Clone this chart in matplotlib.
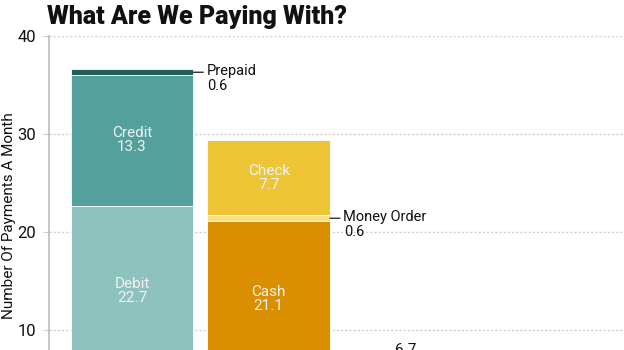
import matplotlib
matplotlib.use("Agg")
import matplotlib.pyplot as plt
from matplotlib import font_manager

# ---- data ----
bars = ["Cards", "Paper", "Electronic"]
card_types = ["Debit", "Credit", "Prepaid"]
card_values = [22.7, 13.3, 0.6]
paper_types = ["Cash", "Money Order", "Check"]
paper_values = [21.1, 0.6, 7.7]
electronic_value = [6.7]
yticks = [10, 20, 30, 40]

card_colors = ["#8dc2be", "#53a09c", "#1f5e59"]
paper_colors = ["#d98f00", "#f7e08c", "#edc537"]

names = [f.name for f in font_manager.fontManager.ttflist]
FONT = "Liberation Sans Narrow" if "Liberation Sans Narrow" in names else "Roboto"
plt.rcParams["font.family"] = [FONT, "DejaVu Sans"]

W, H = 624, 350
fig = plt.figure(figsize=(W / 100, H / 100), dpi=100)
y0_px, y40_px = 428.0, 36.0
ax_left = 49 / W
ax = fig.add_axes([ax_left, 1 - y0_px / H, 1 - ax_left, (y0_px - y40_px) / H])
ax.set_ylim(0, 40)
ax.set_xlim(-0.607, 3.6)

width = 0.897
inside = {"Debit", "Credit", "Cash", "Check"}
LABEL_FLOOR = 5.3


def stack(x, types, values, colors):
    bottom = 0.0
    for t, v, c in zip(types, values, colors):
        ax.bar(x, v, width=width, bottom=bottom, color=c, edgecolor="white",
               linewidth=0.6, zorder=3)
        if t in inside:
            lo = max(bottom, LABEL_FLOOR)
            ax.text(x, (lo + bottom + v) / 2, f"{t}\n{v}", ha="center", va="center",
                    color="#f2f2f2", fontsize=11, linespacing=1.0, zorder=4)
        else:
            yc = bottom + v / 2
            xe = x + width / 2
            ax.annotate("", xy=(xe, yc), xytext=(10, 0), textcoords="offset pixels",
                        xycoords="data",
                        arrowprops=dict(arrowstyle="-", color="#333333", lw=1,
                                        shrinkA=0, shrinkB=0), zorder=5)
            ax.annotate(t, xy=(xe, yc), xytext=(13, 1), textcoords="offset pixels",
                        ha="left", va="center", fontsize=10.5, color="#111111")
            ax.annotate(f"{v}", xy=(xe, yc), xytext=(14, -7), textcoords="offset pixels",
                        ha="left", va="top", fontsize=10.5, color="#111111")
        bottom += v


stack(0, card_types, card_values, card_colors)
stack(1, paper_types, paper_values, paper_colors)
ax.bar(2, electronic_value[0], width=width, color="#7a7a7a", zorder=3)
ax.annotate(f"{electronic_value[0]}", xy=(2, electronic_value[0]), xytext=(0, 5),
            textcoords="offset pixels", ha="center", va="bottom", fontsize=11,
            color="#111111")

ax.set_yticks(yticks)
ax.set_xticks([])
ax.yaxis.grid(True, linestyle=(0, (1.5, 1.5)), color="#cfcfcf", linewidth=1, zorder=0)
ax.set_axisbelow(True)
for s in ["top", "right", "bottom"]:
    ax.spines[s].set_visible(False)
ax.spines["left"].set_color("#bdbdbd")
ax.spines["left"].set_linewidth(1.2)
ax.tick_params(axis="y", length=4, color="#cfcfcf", pad=5, labelsize=12,
               labelcolor="#111111")

fig.text(9 / W, 1 - 216 / H, "Number Of Payments A Month", rotation=90,
         ha="center", va="center", fontsize=11, color="#111111")
fig.text(47 / W, 1 - 24 / H, "What Are We Paying With?", ha="left", va="baseline",
         fontsize=18, fontweight="heavy", color="#111111")

fig.savefig("out.png", dpi=100)
